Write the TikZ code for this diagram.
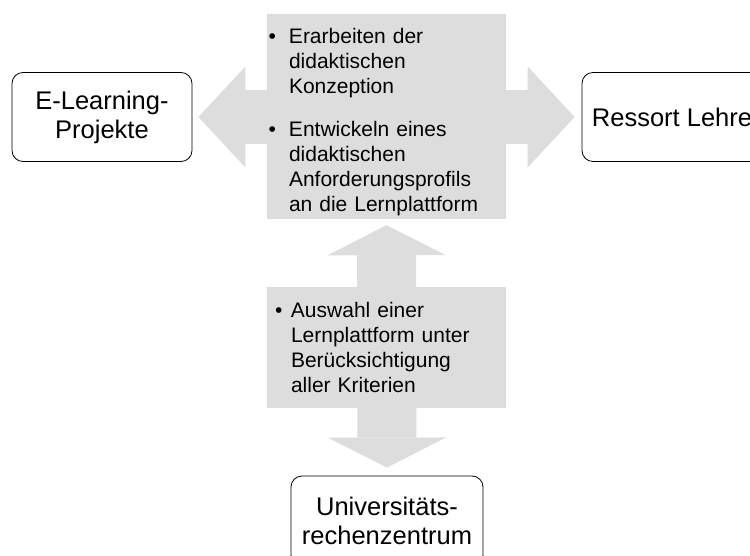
\documentclass[tikz,border=0pt]{standalone}
\usepackage{fontspec}
\setmainfont{Liberation Sans}
\usetikzlibrary{arrows.meta,backgrounds}
\definecolor{hellgrau}{RGB}{221,221,221}
\newcommand{\punkt}[2]{\hangindent=#1\hangafter=1\noindent\makebox[#1][l]{\textbullet}#2\par}
\begin{document}
\begin{tikzpicture}[x=1pt,y=-1pt,
        rahmen/.style={draw,line width=0.8pt,rounded corners=11pt,fill=white,align=center,
          minimum height=89pt,font=\fontsize{25.5}{29}\selectfont},
        feld/.style={fill=hellgrau,align=left,inner ysep=0pt,minimum width=239pt,
          font=\fontsize{21}{25}\selectfont}]
        \path[use as bounding box] (0,0) rectangle (750,556);
        \clip (0,0) rectangle (750,556);
        % Akteure
        \node[rahmen,minimum width=180pt] (elp) at (102,117) {E-Learning-\\Projekte};
        \node[rahmen,minimum width=180pt] (rl) at (672,117) {Ressort Lehre};
        \node[rahmen,minimum width=192pt,minimum height=90pt] (urz) at (387,521) {Universit\"ats-\\rechenzentrum};
        % Aufgaben
        \node[feld,inner xsep=1.5pt,text width=236pt,minimum height=205pt] (konz) at (386.5,116.5)
          {\par\vspace*{2pt}\punkt{20.5pt}{Erarbeiten der\newline didaktischen\newline Konzeption}\vspace{18pt}%
           \punkt{20.5pt}{Entwickeln eines\newline didaktischen\newline Anforderungsprofils\newline an die Lernplattform}};
        \node[feld,inner xsep=8pt,text width=223pt,minimum height=121pt] (ausw) at (386.5,347.5)
          {\punkt{16pt}{Auswahl einer\newline Lernplattform unter\newline Ber\"ucksichtigung\newline aller Kriterien}};
        % Blockpfeile
        \begin{scope}[on background layer]
        \draw[hellgrau,line width=54pt,shorten <=6pt,shorten >=7pt,
          {Triangle[length=47pt,width=101pt,line width=0pt]}-{Triangle[length=47pt,width=101pt,line width=0pt]}]
          (elp.east) -- (rl.west);
        \draw[hellgrau,line width=59pt,shorten <=6pt,shorten >=8pt,
          {Triangle[length=30pt,width=118pt,line width=0pt]}-{Triangle[length=30pt,width=118pt,line width=0pt]}]
          (konz.south) -- (urz.north);
        \end{scope}
      \end{tikzpicture}
\end{document}
